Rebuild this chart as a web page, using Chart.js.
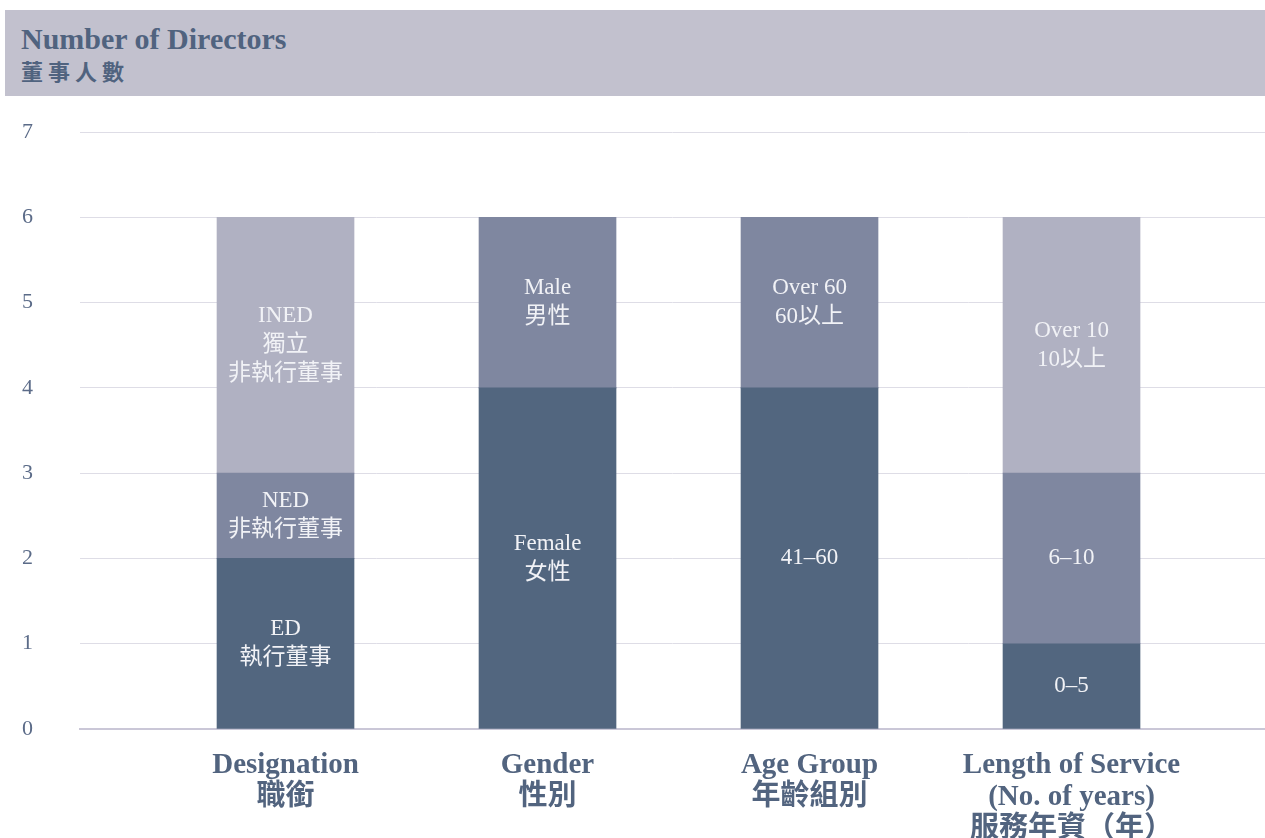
<!DOCTYPE html>
<html>
<head>
<meta charset="utf-8">
<script src="https://cdn.jsdelivr.net/npm/chart.js@4"></script>
<style>
  html, body { margin: 0; padding: 0; background: #fff; }
  body { width: 1265px; height: 838px; position: relative; overflow: hidden; }
  #band {
    position: absolute; left: 5px; top: 10px; width: 1260px; height: 86px;
    background: #c2c1ce; box-sizing: border-box; padding: 12px 0 0 16px;
    color: #50637f; font-family: "Liberation Serif", "Noto Sans CJK TC", serif; font-weight: bold;
  }
  #band .en { font-size: 30px; line-height: 33px; }
  #band .zh { font-size: 22px; line-height: 30px; letter-spacing: 5px; font-family: "Noto Sans CJK TC", sans-serif; }
  #wrap { position: absolute; left: 0; top: 96px; width: 1265px; height: 742px; }
</style>
</head>
<body>
<div id="band"><div class="en">Number of Directors</div><div class="zh">董事人數</div></div>
<div id="wrap"><canvas id="chart"></canvas></div>
<script>
  const categories = [
    ["Designation", "職銜"],
    ["Gender", "性別"],
    ["Age Group", "年齡組別"],
    ["Length of Service", "(No. of years)", "服務年資（年）"]
  ];
  const yTicks = [0, 1, 2, 3, 4, 5, 6, 7];

  // stacked segments, bottom to top
  const bottomValues = [2, 4, 4, 1];
  const middleValues = [1, 0, 0, 2];
  const topValues = [3, 2, 2, 3];

  const bottomLabels = ["ED\n執行董事", "Female\n女性", "41–60", "0–5"];
  const middleLabels = ["NED\n非執行董事", "", "", "6–10"];
  const topLabels = ["INED\n獨立\n非執行董事", "Male\n男性", "Over 60\n60以上", "Over 10\n10以上"];

  const dark = "#52667f";
  const mid = "#7f87a0";
  const light = "#b0b1c2";
  const ink = "#52647f";
  const serif = "'Liberation Serif', 'Noto Sans CJK TC', serif";

  const toPoints = (vals) => vals.map((v, i) => ({ x: i, y: v }));

  const segmentLabels = {
    id: "segmentLabels",
    afterDatasetsDraw(chart) {
      const ctx = chart.ctx;
      ctx.save();
      ctx.fillStyle = "#f1f2f6";
      ctx.font = "23px " + serif;
      ctx.textAlign = "center";
      ctx.textBaseline = "middle";
      chart.data.datasets.forEach((ds, di) => {
        const meta = chart.getDatasetMeta(di);
        meta.data.forEach((bar, i) => {
          const text = ds.segLabels[i];
          if (!text) return;
          const lines = text.split("\n");
          const { x, y, base } = bar.getProps(["x", "y", "base"], true);
          const cy = (y + base) / 2;
          const lh = 29;
          lines.forEach((line, k) => {
            ctx.fillText(line, x, cy + (k - (lines.length - 1) / 2) * lh);
          });
        });
      });
      ctx.restore();
    }
  };

  new Chart(document.getElementById("chart"), {
    type: "bar",
    data: {
      datasets: [
        { data: toPoints(bottomValues), backgroundColor: dark, segLabels: bottomLabels },
        { data: toPoints(middleValues), backgroundColor: mid, segLabels: middleLabels },
        { data: toPoints(topValues), backgroundColor: [light, mid, mid, light], segLabels: topLabels }
      ]
    },
    plugins: [segmentLabels],
    options: {
      responsive: true,
      maintainAspectRatio: false,
      animation: false,
      barThickness: 137,
      layout: { padding: { top: 36, right: 0, bottom: 0, left: 0 } },
      plugins: { legend: { display: false }, tooltip: { enabled: false } },
      scales: {
        x: {
          type: "linear",
          stacked: true,
          offset: false,
          min: -0.7844,
          max: 3.7385,
          afterBuildTicks: (axis) => { axis.ticks = categories.map((_, i) => ({ value: i })); },
          afterFit: (axis) => {
            axis.height = 109;
            axis.paddingLeft = 0;
            axis.paddingRight = 0;
            axis.paddingTop = 0;
            axis.paddingBottom = 0;
          },
          grid: { display: false, drawTicks: false },
          border: { color: "#cac7d7", width: 2 },
          ticks: {
            autoSkip: false,
            maxRotation: 0,
            padding: 21,
            color: ink,
            font: { family: serif, size: 29, weight: "bold", lineHeight: 1.1 },
            callback: (v) => categories[v] || ""
          }
        },
        y: {
          stacked: true,
          min: 0,
          max: 7,
          afterBuildTicks: (axis) => { axis.ticks = yTicks.map((v) => ({ value: v })); },
          afterFit: (axis) => {
            axis.width = 80;
            axis.paddingTop = 0;
            axis.paddingBottom = 0;
          },
          grid: { color: "#dedde6", lineWidth: 1, drawTicks: false },
          border: { display: false },
          ticks: {
            padding: 47,
            color: "#5b6b88",
            font: { family: serif, size: 22 }
          }
        }
      }
    }
  });
</script>
</body>
</html>
